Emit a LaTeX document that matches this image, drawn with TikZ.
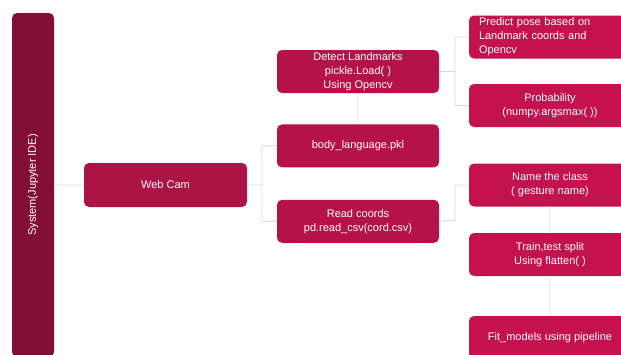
\documentclass[tikz,border=0pt]{standalone}
\usepackage{fontspec}
\setmainfont{Liberation Sans}
\usetikzlibrary{positioning}
\definecolor{sysred}{HTML}{820E36}
\definecolor{camred}{HTML}{AD1446}
\definecolor{midred}{HTML}{B5124A}
\definecolor{rightred}{HTML}{C3124E}
\definecolor{linegray}{HTML}{D9D9D9}

\begin{document}
\begin{tikzpicture}[x=1pt,y=-1pt,node distance=31pt,
    box/.style={rectangle,rounded corners=5pt,minimum width=162pt,minimum height=43pt,inner sep=2pt,
        text=white,align=center,font=\fontsize{11}{14}\selectfont},
    link/.style={draw=linegray,line width=0.9pt}]
	\clip (0,0) rectangle (621,354);

	\node[box,fill=sysred,rotate=90,minimum width=344pt,minimum height=42pt] (sys) at (33,185) {System(Jupyter IDE)};
	\node[box,fill=camred,minimum width=163pt,minimum height=44pt] (cam) at (165.5,185) {Web Cam};

	\node[box,fill=midred] (det) at (358,71.5) {Detect Landmarks\\pickle.Load( )\\Using Opencv};
	\node[box,fill=midred] (pkl) [below=31pt of det] {body\_language.pkl};
	\node[box,fill=midred] (csv) [below=32pt of pkl] {Read coords\\pd.read\_csv(cord.csv)};

	\node[box,fill=rightred,text width=142pt,align=left] (pose) at (550,37) {Predict pose based on\\Landmark coords and\\Opencv};
	\node[box,fill=rightred] (prob) at (550,105.5) {Probability\\(numpy.argsmax( ))};
	\node[box,fill=rightred] (cls) at (550,185) {Name the class\\( gesture name)};
	\node[box,fill=rightred] (split) at (550,254.5) {Train,test split\\Using flatten( )};
	\node[box,fill=rightred] (fit) at (550,337.5) {Fit\_models using pipeline};

	\coordinate (j1) at (262,185);
	\coordinate (j2) at (455,71.5);
	\coordinate (j3) at (455,220.5);

	\path[link] (sys) -- (cam)
		(cam.east) -- (j1)
		(pkl.west) -| (j1) |- (csv.west)
		(det.south) -- (pkl.north)
		(det.east) -- (j2)
		(pose.west) -| (j2) |- (prob.west)
		(csv.east) -- (j3) |- (cls.west)
		(cls.south) -- (split.north)
		(split.south) -- (fit.north);
\end{tikzpicture}
\end{document}
